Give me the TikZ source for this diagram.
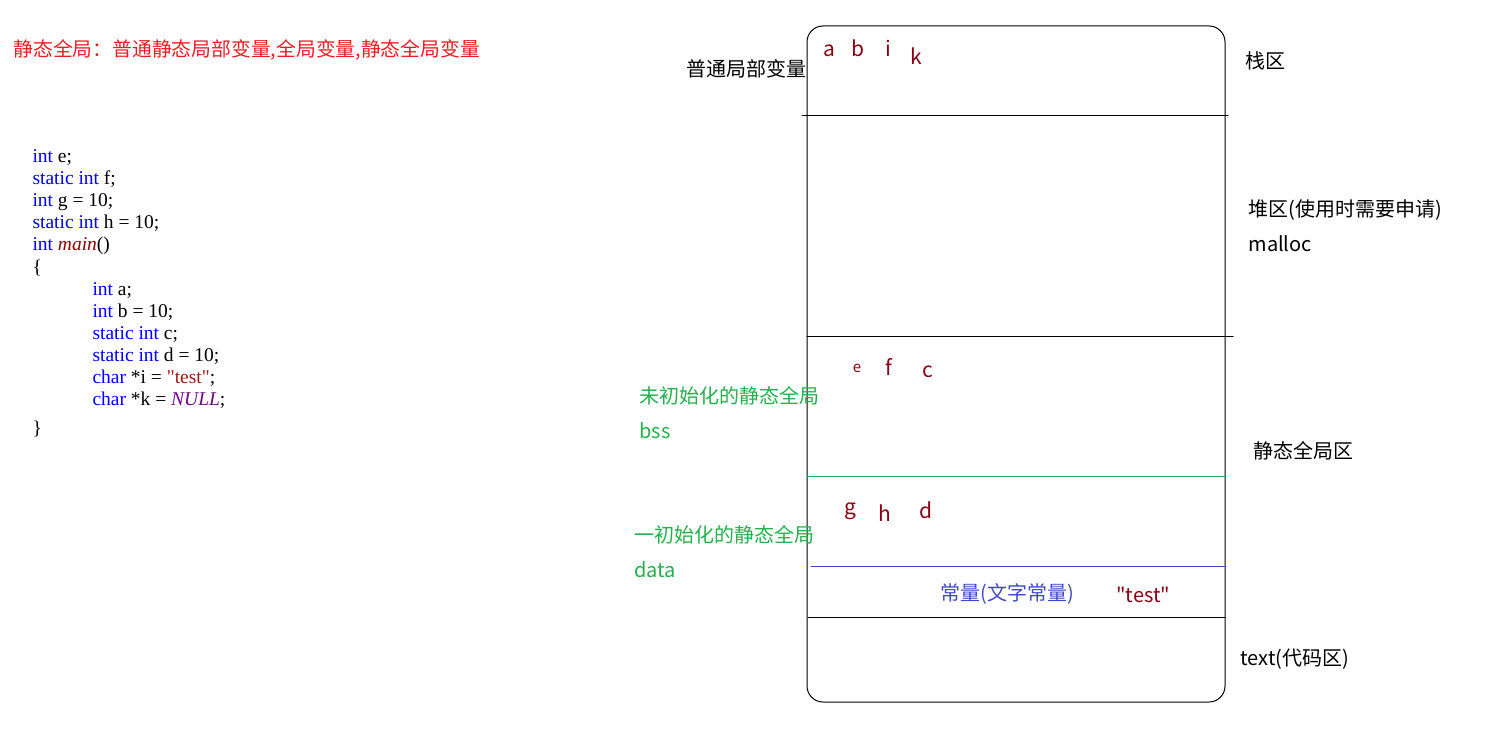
\documentclass[tikz,border=0pt]{standalone}
\usepackage{fontspec}
\newfontfamily\codefont{Liberation Serif}
\newfontfamily\cjk{Noto Sans CJK SC}
\usepackage{xcolor}
\usetikzlibrary{positioning}
\definecolor{paintred}{HTML}{ED1C24}
\definecolor{paintgreen}{HTML}{22B14C}
\definecolor{paintblue}{HTML}{3F48CC}
\definecolor{varred}{HTML}{880015}
\definecolor{kwblue}{HTML}{0000FF}
\definecolor{fnred}{HTML}{8B0000}
\definecolor{strred}{HTML}{A31515}
\definecolor{nullpurple}{HTML}{6F008A}
\tikzset{
  lbl/.style={font=\cjk\fontsize{20}{24}\selectfont,inner sep=0pt,anchor=west},
  var/.style={font=\cjk\fontsize{21}{24}\selectfont,text=varred,inner sep=0pt,anchor=base},
  code/.style={font=\codefont\fontsize{19.5}{22}\selectfont,inner sep=0pt,anchor=base west},
  every path/.style={line width=1pt}
}
\newcommand{\kw}[1]{\textcolor{kwblue}{#1}}

\begin{document}
\begin{tikzpicture}[x=1pt,y=-1pt,line cap=round,line join=round]
  % page frame
  \useasboundingbox (0,0) rectangle (1506,743);

  % heading
  \node[lbl,text=paintred,font=\cjk\fontsize{19.8}{24}\selectfont] (title) at (13,50)
    {静态全局：普通静态局部变量,全局变量,静态全局变量};

  % source code
  \node[code] (c1) at (32,163) {\kw{int} e;};
  \node[code] (c2) at (32,185) {\kw{static int} f;};
  \node[code] (c3) at (32,207) {\kw{int} g = 10;};
  \node[code] (c4) at (32,229) {\kw{static int} h = 10;};
  \node[code] (c5) at (32,251) {\kw{int} \textcolor{fnred}{\textit{main}}()};
  \node[code] (c6) at (32,273) {\{};
  \node[code] (c7) at (92,295) {\kw{int} a;};
  \node[code] (c8) at (92,317) {\kw{int} b = 10;};
  \node[code] (c9) at (92,339) {\kw{static int} c;};
  \node[code] (c10) at (92,361) {\kw{static int} d = 10;};
  \node[code] (c11) at (92,383) {\kw{char} *i = \textcolor{strred}{"test"};};
  \node[code] (c12) at (92,405) {\kw{char} *k = \textcolor{nullpurple}{\textit{NULL}};};
  \node[code] (c13) at (32,434) {\}};

  % memory block
  \coordinate (top) at (807,26);
  \coordinate (bot) at (1225,702);
  \draw[rounded corners=16pt] (top) rectangle (bot);
  \draw (802,116) -- (1228,116);
  \draw (807,336) -- (1233,336);
  \draw[paintgreen] (807,476) -- (1225,476);
  \draw[paintblue] (811,566) -- (1225,566);
  \draw (808,617) -- (1225,617);

  % stack
  \node[lbl,anchor=east] (local) at (807,69) {普通局部变量};
  \node[var] (va) at (829,57) {a};
  \node[var] (vb) at (858,57) {b};
  \node[var] (vi) at (888,57) {i};
  \node[var] (vk) at (916,65) {k};

  % bss
  \node[var,font=\cjk\fontsize{15}{18}\selectfont] (ve) at (857,372) {e};
  \node[var] (vf) at (889,375) {f};
  \node[var] (vc) at (928,377) {c};
  \node[lbl,text=paintgreen] (bsstxt) at (639,396) {未初始化的静态全局};
  \node[lbl,text=paintgreen] (bss) at (639,431) {bss};

  % data
  \node[var] (vg) at (850,514) {g};
  \node[var] (vh) at (885,521) {h};
  \node[var] (vd) at (926,518) {d};
  \node[lbl,text=paintgreen] (datatxt) at (634,535) {一初始化的静态全局};
  \node[lbl,text=paintgreen] (data) at (634,570) {data};

  % constants
  \node[lbl,text=paintblue] (const) at (940,594) {常量(文字常量)};
  \node[lbl,text=varred] (str) at (1116,595) {"test"};

  % region names
  \node[lbl] (stack) at (1245,61) {栈区};
  \node[lbl] (heap) at (1248,210) {堆区(使用时需要申请)};
  \node[lbl] (malloc) at (1248,244) {malloc};
  \node[lbl] (static) at (1253,451) {静态全局区};
  \node[lbl] (text) at (1240,659) {text(代码区)};
\end{tikzpicture}
\end{document}
